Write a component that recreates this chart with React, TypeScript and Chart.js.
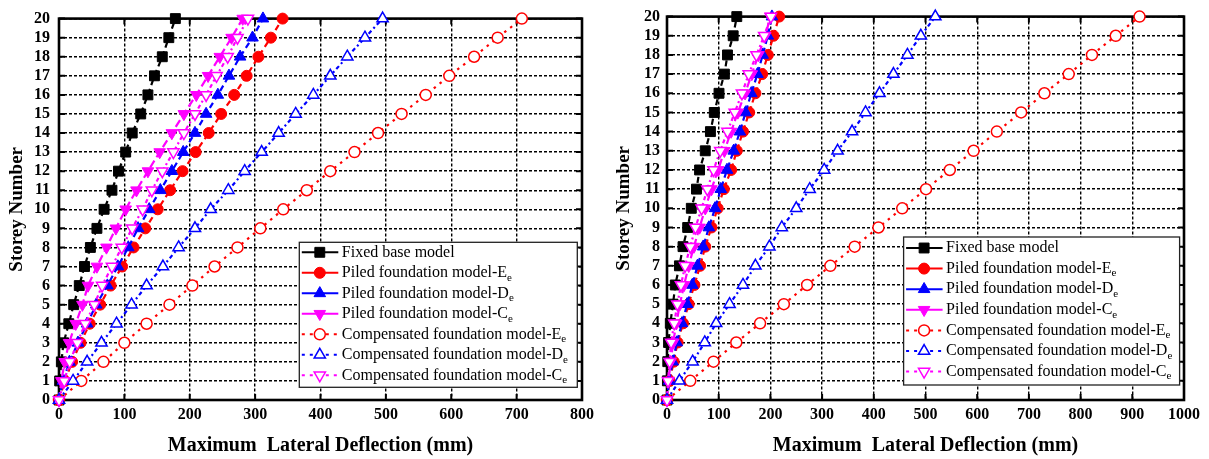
import React, { useEffect, useRef } from 'react';
import { Chart, registerables } from 'chart.js';

Chart.register(...registerables);

const FONT = '"Liberation Serif", "Times New Roman", serif';

// ---------- data ----------
const storeys = [0, 1, 2, 3, 4, 5, 6, 7, 8, 9, 10, 11, 12, 13, 14, 15, 16, 17, 18, 19, 20];
const storeyTicks = [0, 20];
const xTicksLeft = [0, 100, 200, 300, 400, 500, 600, 700, 800];
const xTicksRight = [0, 100, 200, 300, 400, 500, 600, 700, 800, 900, 1000];

const seriesNames = [
  'Fixed base model',
  'Piled foundation model-E',
  'Piled foundation model-D',
  'Piled foundation model-C',
  'Compensated foundation model-E',
  'Compensated foundation model-D',
  'Compensated foundation model-C',
];
const seriesSubs = ['', 'e', 'e', 'e', 'e', 'e', 'e'];

// left chart
const fixedL = [0, 1, 3.6, 7, 15, 22.5, 31, 39, 48, 58, 69, 81, 91, 102, 112, 125, 136, 146, 158, 168, 178];
const piledEL = [0, 9, 20, 33, 47, 63, 79, 96.5, 114, 132, 151, 170, 189, 209, 229, 248, 268, 287, 305, 324, 342];
const piledDL = [0, 6, 16, 29, 43, 57, 74, 90, 106, 121, 138, 155, 172.6, 190, 208, 225, 243, 260, 277, 296, 312];
const piledCL = [0, 3.6, 8.7, 15.3, 25.6, 35.8, 44.4, 58, 72.6, 87, 102, 118.5, 136, 154, 172.6, 191, 210, 228, 246, 264, 281];
const compEL = [0, 34, 68, 100, 134, 169, 204, 238, 273, 308, 343, 379, 415, 452, 488, 524, 561, 597, 635, 671, 708];
const compDL = [0, 21.5, 43, 65, 88, 111, 134, 159, 183, 208, 232, 259, 284, 310, 336, 362, 389, 415, 441, 468, 495];
const compCL = [0, 8, 16.4, 28, 40, 54, 66, 81, 96, 112, 128, 142, 158, 175, 191, 208, 225, 241, 258, 273, 289];

// right chart
const fixedR = [0, 0.8, 1.5, 3, 6.4, 11.6, 16, 24, 31, 40, 47, 57, 63, 74, 84, 91.5, 100.6, 111, 117, 128, 135];
const piledER = [0, 5, 13, 20.5, 31, 42, 53, 64, 74, 86, 98, 110, 124, 135, 147, 159, 171, 184, 195, 206, 217];
const piledDR = [0, 4, 11, 19, 29, 39, 49, 59, 70, 81, 93, 104, 116, 129, 141, 152, 163, 175, 185, 195, 203];
const piledCR = [0, 3, 7, 12, 18, 25, 33, 42, 52, 63, 74, 86, 99, 111, 124, 137, 151, 164, 177, 190, 200];
const compER = [0, 45, 90, 134, 180, 226, 271, 316, 363, 409, 455, 501, 547, 593, 638, 685, 730, 777, 822, 868, 914];
const compDR = [0, 24, 49.6, 73, 95, 121, 147, 171, 198, 222, 250, 276, 304, 330, 358, 384, 411, 438, 465, 491, 519];
const compCR = [0, 2, 5, 8, 14, 20, 27, 35, 45, 55, 67, 78, 90, 103, 117, 131, 145, 158, 173, 188, 201];

const leftSeries = [fixedL, piledEL, piledDL, piledCL, compEL, compDL, compCL];
const rightSeries = [fixedR, piledER, piledDR, piledCR, compER, compDR, compCR];

// ---------- styles ----------
type Marker = 'rect' | 'circle' | 'triangle' | 'triangleDown';
const styles: { color: string; marker: Marker; filled: boolean; dash: number[]; legendDash: number[]; radius: number }[] = [
  { color: '#000000', marker: 'rect', filled: true, dash: [6, 4], legendDash: [], radius: 7 },
  { color: '#ff0000', marker: 'circle', filled: true, dash: [6, 4], legendDash: [], radius: 5.5 },
  { color: '#0000ff', marker: 'triangle', filled: true, dash: [6, 4], legendDash: [], radius: 6.7 },
  { color: '#ff00ff', marker: 'triangleDown', filled: true, dash: [8, 4], legendDash: [], radius: 6.7 },
  { color: '#ff0000', marker: 'circle', filled: false, dash: [2.5, 5], legendDash: [3, 5], radius: 5.5 },
  { color: '#0000ff', marker: 'triangle', filled: false, dash: [4, 3, 2, 3], legendDash: [3, 5], radius: 6.5 },
  { color: '#ff00ff', marker: 'triangleDown', filled: false, dash: [4, 3, 2, 3], legendDash: [3, 5], radius: 6.5 },
];

function drawMarker(ctx: CanvasRenderingContext2D, m: Marker, x: number, y: number, r: number, color: string, filled: boolean) {
  ctx.save();
  ctx.setLineDash([]);
  ctx.beginPath();
  if (m === 'rect') {
    const s = Math.SQRT1_2 * r;
    ctx.rect(x - s, y - s, 2 * s, 2 * s);
  } else if (m === 'circle') {
    ctx.arc(x, y, r, 0, Math.PI * 2);
  } else {
    let rad = m === 'triangle' ? 0 : Math.PI;
    ctx.moveTo(x + Math.sin(rad) * r, y - Math.cos(rad) * r);
    rad += (2 * Math.PI) / 3;
    ctx.lineTo(x + Math.sin(rad) * r, y - Math.cos(rad) * r);
    rad += (2 * Math.PI) / 3;
    ctx.lineTo(x + Math.sin(rad) * r, y - Math.cos(rad) * r);
    ctx.closePath();
  }
  ctx.fillStyle = filled ? color : '#ffffff';
  ctx.fill();
  ctx.strokeStyle = color;
  ctx.lineWidth = filled ? 1 : 1.5;
  ctx.stroke();
  ctx.restore();
}

const framePlugin = {
  id: 'frame',
  beforeDatasetsDraw(chart: any) {
    const { ctx, chartArea } = chart;
    const { left, right, top, bottom } = chartArea;
    ctx.save();
    ctx.setLineDash([]);
    ctx.strokeStyle = '#000';
    ctx.lineWidth = 2;
    const xs = chart.scales.x;
    const ys = chart.scales.y;
    const tl = 6;
    ctx.beginPath();
    xs.ticks.forEach((t: any) => {
      const px = xs.getPixelForValue(t.value);
      ctx.moveTo(px, bottom);
      ctx.lineTo(px, bottom - tl);
      ctx.moveTo(px, top);
      ctx.lineTo(px, top + tl);
    });
    ys.ticks.forEach((t: any) => {
      const py = ys.getPixelForValue(t.value);
      ctx.moveTo(left, py);
      ctx.lineTo(left + tl, py);
      ctx.moveTo(right, py);
      ctx.lineTo(right - tl, py);
    });
    ctx.stroke();
    ctx.lineWidth = 2.6;
    ctx.strokeRect(left, top, right - left, bottom - top);
    ctx.restore();
  },
};

const legendPlugin = {
  id: 'boxLegend',
  afterDraw(chart: any, _args: any, opts: any) {
    const { ctx, chartArea } = chart;
    const w = opts.width;
    const h = opts.height;
    const x0 = chartArea.right - opts.right - w;
    const y0 = chartArea.bottom - opts.bottom - h;
    ctx.save();
    ctx.fillStyle = '#ffffff';
    ctx.fillRect(x0, y0, w, h);
    ctx.strokeStyle = '#222';
    ctx.lineWidth = 1.3;
    ctx.setLineDash([]);
    ctx.strokeRect(x0, y0, w, h);
    chart.data.datasets.forEach((ds: any, i: number) => {
      const st = styles[i];
      const cy = y0 + opts.firstRow + i * opts.rowHeight;
      const lx1 = x0 + 2.5;
      const lx2 = x0 + 39;
      const mx = x0 + 20.5;
      ctx.save();
      ctx.strokeStyle = st.color;
      ctx.lineWidth = 2;
      ctx.setLineDash(st.legendDash);
      ctx.beginPath();
      ctx.moveTo(lx1, cy);
      ctx.lineTo(lx2, cy);
      ctx.stroke();
      ctx.restore();
      drawMarker(ctx, st.marker, mx, cy, st.radius, st.color, st.filled);
      ctx.fillStyle = '#000';
      ctx.textBaseline = 'middle';
      ctx.textAlign = 'left';
      ctx.font = `16px ${FONT}`;
      const tx = x0 + 42.5;
      ctx.fillText(ds.label, tx, cy);
      const tw = ctx.measureText(ds.label).width;
      if (seriesSubs[i]) {
        ctx.font = `11px ${FONT}`;
        ctx.fillText(seriesSubs[i], tx + tw, cy + 5);
      }
    });
    ctx.restore();
  },
};

function makeConfig(series: number[][], xTicks: number[], geom: any) {
  const datasets = series.map((vals, i) => {
    const st = styles[i];
    return {
      label: seriesNames[i],
      data: vals.map((v, k) => ({ x: v, y: storeys[k] })),
      borderColor: st.color,
      backgroundColor: st.color,
      borderWidth: 2.2,
      borderDash: st.dash,
      pointStyle: st.marker === 'triangleDown' ? 'triangle' : st.marker,
      pointRotation: st.marker === 'triangleDown' ? 180 : 0,
      pointRadius: st.radius,
      pointBackgroundColor: st.filled ? st.color : '#ffffff',
      pointBorderColor: st.color,
      pointBorderWidth: st.filled ? 1 : 1.5,
      showLine: true,
      fill: false,
      tension: 0,
      clip: false as any,
      order: series.length - i,
    };
  });
  return {
    type: 'line' as const,
    data: { datasets },
    plugins: [framePlugin, legendPlugin],
    options: {
      animation: false as const,
      responsive: false,
      maintainAspectRatio: false,
      events: [],
      layout: { padding: { left: 0, top: geom.top, right: geom.right, bottom: 0 } },
      plugins: {
        legend: { display: false },
        tooltip: { enabled: false },
        boxLegend: geom.legend,
      },
      scales: {
        x: {
          type: 'linear' as const,
          position: 'bottom' as const,
          min: xTicks[0],
          max: xTicks[xTicks.length - 1],
          afterFit: (s: any) => { s.height = geom.xHeight; },
          ticks: {
            stepSize: xTicks[1] - xTicks[0],
            color: '#000',
            padding: 5,
            maxRotation: 0,
            autoSkip: false,
            callback: (v: any) => String(v),
            font: { family: FONT, size: 16, weight: 'bold' as const },
          },
          grid: { color: '#000', lineWidth: 1.4, drawTicks: false },
          border: { display: false, dash: [3, 2] },
          title: {
            display: true,
            text: 'Maximum  Lateral Deflection (mm)',
            color: '#000',
            font: { family: FONT, size: 20, weight: 'bold' as const },
            padding: { top: 0, bottom: 1 },
          },
        },
        y: {
          type: 'linear' as const,
          min: storeyTicks[0],
          max: storeyTicks[1],
          afterFit: (s: any) => { s.width = geom.yWidth; },
          ticks: {
            stepSize: 1,
            color: '#000',
            padding: geom.yPad,
            autoSkip: false,
            callback: (v: any) => String(v),
            font: { family: FONT, size: 16, weight: 'bold' as const },
          },
          grid: { color: '#000', lineWidth: 1.4, drawTicks: false },
          border: { display: false, dash: [3, 2] },
          title: {
            display: true,
            text: 'Storey Number',
            color: '#000',
            font: { family: FONT, size: 19, weight: 'bold' as const },
            padding: { top: geom.yTitlePad, bottom: 0 },
          },
        },
      },
    },
  };
}

function ChartCanvas({ series, xTicks, geom, width }: { series: number[][]; xTicks: number[]; geom: any; width: number }) {
  const ref = useRef<HTMLCanvasElement | null>(null);
  useEffect(() => {
    if (!ref.current) return;
    const chart = new Chart(ref.current, makeConfig(series, xTicks, geom) as any);
    return () => chart.destroy();
  }, []);
  return <canvas ref={ref} width={width} height={459} style={{ display: 'block', width, height: 459 }} />;
}

const leftGeom = {
  top: 17, right: 18, xHeight: 59, yWidth: 59, yPad: 9, yTitlePad: 6,
  legend: { width: 278, height: 145, right: 4.7, bottom: 12.7, firstRow: 10, rowHeight: 20.5 },
};
const rightGeom = {
  top: 16, right: 25, xHeight: 59, yWidth: 67, yPad: 7, yTitlePad: 13,
  legend: { width: 276, height: 148, right: 4.4, bottom: 15, firstRow: 11, rowHeight: 20.6 },
};

export default function App() {
  return (
    <div style={{ position: 'fixed', left: 0, top: 0, width: 1209, height: 459, background: '#fff', display: 'flex' }}>
      <ChartCanvas series={leftSeries} xTicks={xTicksLeft} geom={leftGeom} width={600} />
      <ChartCanvas series={rightSeries} xTicks={xTicksRight} geom={rightGeom} width={609} />
    </div>
  );
}
